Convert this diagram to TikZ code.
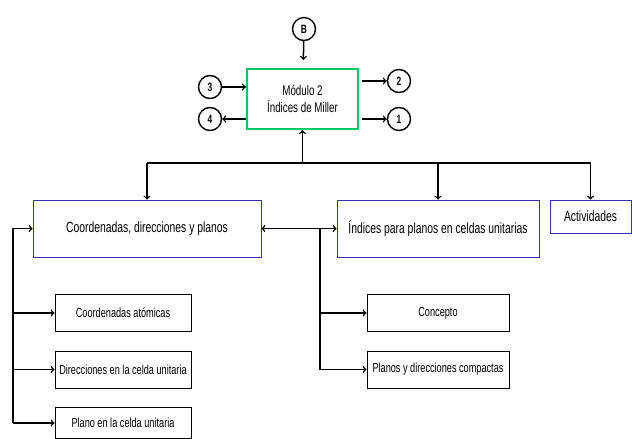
\documentclass[tikz,border=0pt]{standalone}
\usepackage{fontspec}
\setmainfont{Liberation Sans}[FakeStretch=0.7]
\usetikzlibrary{positioning,calc}
\definecolor{mgreen}{RGB}{0,200,100}
\definecolor{mblue}{RGB}{50,50,170}
\tikzset{
  mn/.style={rectangle, minimum width=111pt, minimum height=60pt, text centered, draw=mgreen, line width=2.2pt, font=\fontsize{14}{17}\selectfont, align=center},
  sc/.style={circle, minimum size=23pt, inner sep=0pt, draw=black, line width=1.4pt, font=\bfseries\fontsize{12}{14}\selectfont},
  hd/.style={rectangle, minimum height=57pt, text centered, draw=mblue, line width=0.8pt, font=\fontsize{14.8}{17}\selectfont},
  sb/.style={rectangle, minimum width=136pt, minimum height=37pt, text centered, draw=black, line width=0.9pt, font=\fontsize{13.1}{15}\selectfont},
  node distance=7mm
}

\begin{document}
\begin{tikzpicture}[x=1pt,y=-1pt,line width=1.5pt]
	\useasboundingbox (0,0) rectangle (632,439);
	\node[mn] (main) at (302.5,99) {Módulo 2\\Índices de Miller};
	\node[sc] (b) at (304,29) {B};
	\node[sc] (c3) at (210,87) {3};
	\node[sc] (c4) at (210,119) {4};
	\node[sc] (c2) at (399,81) {2};
	\node[sc] (c1) at (399,119) {1};
	
	\draw[->, shorten >=8pt] (b) -- (main);
	\draw[->] (c3) -- (c3 -| main.west);
	\draw[->] (c4 -| main.west) -- (c4);
	\draw[->] (c2 -| main.east) ++(3,0) -- (c2);
	\draw[->] (c1 -| main.east) ++(3,0) -- (c1);
	
	\node[hd, minimum width=228pt] (coord) at (147,228.5) {Coordenadas, direcciones y planos};
	\node[hd, minimum width=202pt] (indices) at (438,228.5) {Índices para planos en celdas unitarias};
	\node[hd, minimum width=81pt, minimum height=33pt] (activ) at (590.5,216.5) {Actividades};
	
	\coordinate (bus) at (302.5,163);
	\draw[->] (bus) -- (main);
	\draw (coord.north |- bus) -- (activ.north |- bus);
	\draw[->] (coord.north |- bus) -- (coord);
	\draw[->] (indices.north |- bus) -- (indices);
	\draw[->] (activ.north |- bus) -- (activ);
	\draw[<->] (coord) -- (indices);
	
	\node[sb] (atom) at (123,313) {Coordenadas atómicas};
	\node[sb] (dir) at (123,369.5) {Direcciones en la celda unitaria};
	\node[sb, minimum height=31pt] (plano) at (123,423) {Plano en la celda unitaria};
	\node[sb, minimum width=142pt] (concept) at (438,313) {Concepto};
	\node[sb, minimum width=142pt] (planos) at (438,369.5) {Planos y direcciones compactas};
	
	\coordinate (lb) at (13,228.5);
	\draw[->] (lb |- plano) |- (coord);
	\draw[->] (lb |- atom) -- (atom);
	\draw[->] (lb |- dir) -- (dir);
	\draw[->] (lb |- plano) -- (plano);
	
	\coordinate (rb) at (320,228.5);
	\draw[->] (rb) |- (planos);
	\draw[->] (rb |- concept) -- (concept);
\end{tikzpicture}
\end{document}
